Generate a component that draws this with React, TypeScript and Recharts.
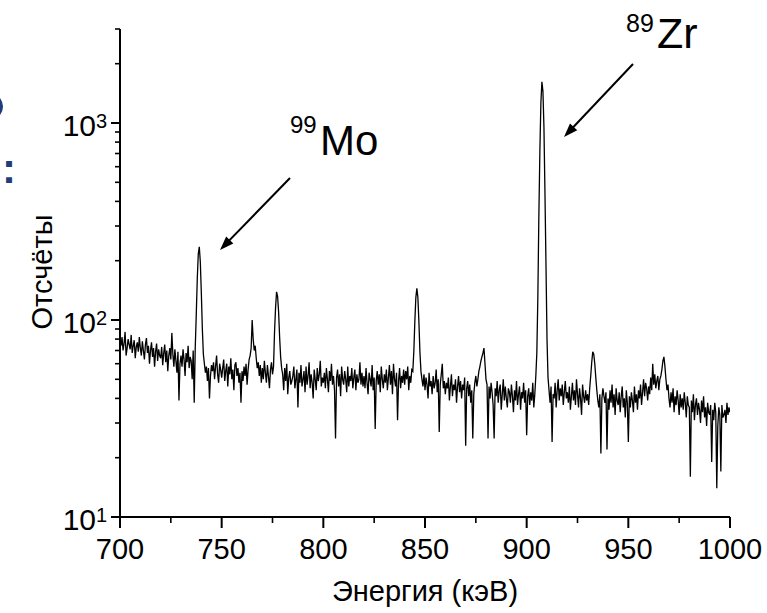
import React from "react";
import { LineChart, Line, XAxis, YAxis } from "recharts";

// Spectrum: counts per 0.5 keV channel from 700 to 1000 keV
const START_E = 700;
const STEP_E = 0.5;
const COUNTS: number[] = [
  78,74,82,70,76,87,66,72,80,75,71,84,68,74,79,64,73,77,69,82,
  72,66,78,70,63,75,81,68,74,60,70,77,65,72,58,69,76,62,71,66,
  64,73,59,68,75,61,70,55,66,72,63,86,67,58,71,62,54,69,39,60,
  66,58,71,63,52,68,61,74,57,65,62,50,70,38,72,106,161,217,235,197,
  137,90,67,60,54,58,49,57,40,52,59,55,61,50,58,66,53,48,60,56,
  51,57,63,49,55,60,46,58,53,64,50,56,44,59,61,52,57,48,54,38,
  55,49,58,52,60,47,56,63,66,72,100,80,70,74,64,57,61,52,59,48,
  57,50,62,54,48,59,52,45,56,61,53,58,87,115,139,132,110,82,65,57,
  53,44,57,49,60,42,51,55,47,49,52,58,45,50,56,36,54,48,59,46,
  50,55,43,58,47,52,61,45,53,48,40,56,50,44,57,49,53,62,46,51,
  48,54,45,57,50,43,55,49,60,47,52,44,25,51,56,46,53,41,58,50,
  47,55,50,43,58,46,52,49,57,45,51,56,44,53,48,50,61,47,54,46,
  52,45,57,48,42,54,50,46,59,44,51,28,49,55,47,53,43,58,50,45,
  53,48,56,44,51,59,47,55,42,60,50,46,54,31,49,57,45,52,48,56,
  47,55,50,58,44,52,48,56,55,69,98,130,145,130,98,69,55,50,46,53,
  44,51,47,40,54,46,49,42,52,45,48,56,43,50,27,47,53,60,45,49,
  42,48,45,51,39,46,53,41,47,44,50,38,46,52,43,49,40,47,44,51,
  23,45,49,41,47,38,44,25,42,48,52,46,50,55,58,62,65,68,72,60,
  50,47,25,46,40,48,43,37,25,45,41,49,38,44,47,35,42,50,39,46,
  40,36,45,43,38,47,41,34,44,39,49,37,42,46,35,43,40,48,38,44,
  26,41,45,37,43,39,48,36,42,52,68,131,340,723,1270,1620,1450,945,440,190,
  80,51,44,38,46,24,42,40,48,36,44,50,39,45,41,47,37,43,49,40,
  43,38,46,35,41,48,39,44,37,50,42,36,45,40,33,47,41,38,44,39,
  42,37,45,52,61,69,67,60,51,44,39,36,42,21,40,45,41,38,43,22,
  40,35,44,38,47,36,42,33,45,39,37,43,34,41,46,36,40,32,44,38,
  24,41,36,43,39,34,46,38,42,35,44,40,47,37,43,50,41,48,45,39,
  46,42,51,44,60,47,53,45,49,52,44,50,52,56,62,65,58,50,44,47,
  40,36,43,38,45,34,41,37,44,39,33,42,36,40,35,43,38,32,41,37,
  36,16,39,34,42,31,37,40,33,38,35,30,39,34,41,32,36,29,38,34,
  33,37,19,35,31,38,34,14,29,36,33,17,37,32,33,35,30,38,33,36,
  34,
];

const X_MAJOR = [700, 750, 800, 850, 900, 950, 1000];
const X_MINOR = [725, 775, 825, 875, 925, 975];
const Y_MAJOR = [10, 100, 1000];
const Y_EXP = ["1", "2", "3"];
const Y_MINOR = [20, 30, 40, 50, 60, 70, 80, 90, 200, 300, 400, 500, 600, 700, 800, 900, 2000, 3000];

const X_TITLE = "Энергия (кэВ)";
const Y_TITLE = "Отсчёты";
const PEAK_ISOTOPES = ["99", "89"];
const PEAK_ELEMENTS = ["Mo", "Zr"];

const data = COUNTS.map((c, i) => ({ e: START_E + i * STEP_E, c }));
const X_TICKS = [...X_MAJOR, ...X_MINOR].sort((a, b) => a - b);
const Y_TICKS = [...Y_MAJOR, ...Y_MINOR].sort((a, b) => a - b);

const FONT = "'Liberation Sans', Arial, sans-serif";

const XTick = (props: any) => {
  const { x, y, payload } = props;
  const major = X_MAJOR.includes(payload.value);
  return (
    <g>
      <line x1={x} y1={y} x2={x} y2={y + (major ? 11 : 6)} stroke="#000" strokeWidth={major ? 2 : 1.6} />
      {major && (
        <text x={x} y={y + 42} textAnchor="middle" fontSize={29} fontFamily={FONT} fill="#000">
          {payload.value}
        </text>
      )}
    </g>
  );
};

const YTick = (props: any) => {
  const { x, y, payload } = props;
  const idx = Y_MAJOR.indexOf(payload.value);
  const major = idx >= 0;
  return (
    <g>
      <line x1={x - (major ? 9 : 5)} y1={y} x2={x} y2={y} stroke="#000" strokeWidth={major ? 2 : 1.6} />
      {major && (
        <g>
          <text x={96} y={y + 13} textAnchor="end" fontSize={30} fontFamily={FONT} fill="#000">
            10
          </text>
          <text x={96} y={y + 5} textAnchor="start" fontSize={20} fontFamily={FONT} fill="#000">
            {Y_EXP[idx]}
          </text>
        </g>
      )}
    </g>
  );
};

const Arrow = ({ x1, y1, x2, y2 }: { x1: number; y1: number; x2: number; y2: number }) => {
  const dx = x2 - x1;
  const dy = y2 - y1;
  const len = Math.sqrt(dx * dx + dy * dy);
  const ux = dx / len;
  const uy = dy / len;
  const hl = 14;
  const hw = 5;
  const bx = x2 - ux * hl;
  const by = y2 - uy * hl;
  const p1 = `${x2},${y2}`;
  const p2 = `${bx - uy * hw},${by + ux * hw}`;
  const p3 = `${bx + uy * hw},${by - ux * hw}`;
  return (
    <g>
      <line x1={x1} y1={y1} x2={bx + ux * 2} y2={by + uy * 2} stroke="#000" strokeWidth={2} />
      <polygon points={`${p1} ${p2} ${p3}`} fill="#000" />
    </g>
  );
};

export default function App() {
  return (
    <div style={{ position: "absolute", left: 0, top: 0, width: 767, height: 613, background: "#fff", overflow: "hidden" }}>
      <LineChart width={767} height={613} data={data} margin={{ top: 29, right: 37, left: 0, bottom: 0 }}>
        <XAxis
          dataKey="e"
          type="number"
          domain={[700, 1000]}
          ticks={X_TICKS}
          interval={0}
          tickSize={0}
          tickMargin={0}
          tickLine={false}
          tick={<XTick />}
          height={96}
          axisLine={{ stroke: "#000", strokeWidth: 2 }}
          allowDataOverflow
        />
        <YAxis
          type="number"
          scale="log"
          domain={[10, 3000]}
          ticks={Y_TICKS}
          interval={0}
          tickSize={0}
          tickMargin={0}
          tickLine={false}
          tick={<YTick />}
          width={120}
          axisLine={{ stroke: "#000", strokeWidth: 2 }}
          allowDataOverflow
        />
        <Line
          type="linear"
          dataKey="c"
          stroke="#000"
          strokeWidth={1.3}
          dot={false}
          isAnimationActive={false}
        />
      </LineChart>
      <svg
        width={767}
        height={613}
        style={{ position: "absolute", left: 0, top: 0, pointerEvents: "none" }}
      >
        <path d="M -1 99 Q 4 106.5 -1 114" fill="none" stroke="#1f3d7a" strokeWidth={3} />
        <text x={2} y={183} fontSize={42} fontWeight="bold" fontFamily={FONT} fill="#1f3d7a">:</text>
        <text
          x={52}
          y={272}
          transform="rotate(-90 52 272)"
          textAnchor="middle"
          fontSize={29}
          fontFamily={FONT}
          fill="#000"
        >
          {Y_TITLE}
        </text>
        <text x={425} y={601} textAnchor="middle" fontSize={29} fontFamily={FONT} fill="#000">
          {X_TITLE}
        </text>
        <text x={290} y={133} fontSize={24} fontFamily={FONT} fill="#000">{PEAK_ISOTOPES[0]}</text>
        <text x={320} y={155} fontSize={42} fontFamily={FONT} fill="#000">{PEAK_ELEMENTS[0]}</text>
        <text x={626} y={32} fontSize={25} fontFamily={FONT} fill="#000">{PEAK_ISOTOPES[1]}</text>
        <text x={657} y={48} fontSize={43} fontFamily={FONT} fill="#000">{PEAK_ELEMENTS[1]}</text>
        <Arrow x1={290} y1={178} x2={220} y2={250} />
        <Arrow x1={633} y1={64} x2={564} y2={137} />
      </svg>
    </div>
  );
}
